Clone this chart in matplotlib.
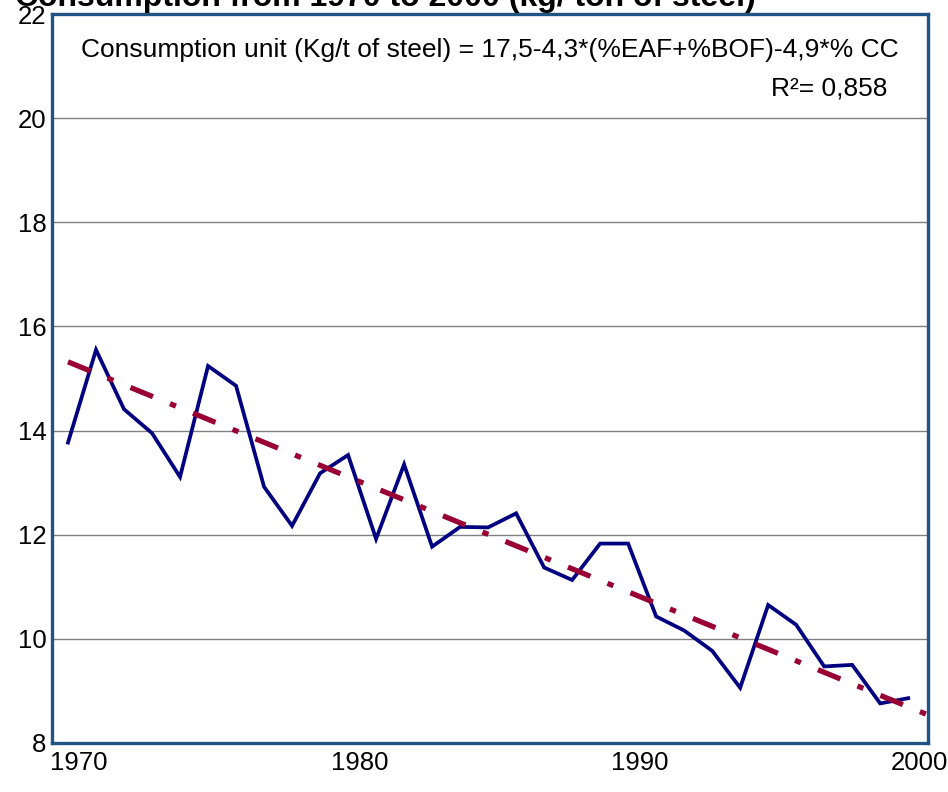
import numpy as np
import matplotlib
matplotlib.use("Agg")
import matplotlib.pyplot as plt

plt.rcParams['font.family'] = ['Liberation Sans', 'DejaVu Sans']

# consumption per year (kg / t of steel)
years = list(range(1970, 2001))
consumption = [13.77, 15.55, 14.41, 13.95, 13.11, 15.24, 14.86, 12.92, 12.17, 13.18,
               13.53, 11.92, 13.35, 11.77, 12.15, 12.14, 12.41, 11.37, 11.13, 11.83,
               11.83, 10.43, 10.16, 9.77, 9.06, 10.65, 10.27, 9.47, 9.50, 8.76,
               8.86]

# trend line (start / end)
trend_years = [1970, 2000.7]
trend_values = [15.32, 8.54]

xtick_years = [1970, 1980, 1990, 2000]
ytick_values = [8, 10, 12, 14, 16, 18, 20, 22]

fig = plt.figure(figsize=(9.48, 7.92), dpi=100)
ax = fig.add_axes([0.0549, 0.0619, 0.9241, 0.9204])

ax.plot(years, consumption, color='#000080', lw=2.7, solid_joinstyle='miter', zorder=3)
ax.plot(trend_years, trend_values, color='#990033', lw=3.8,
        dashes=(4.6, 3.5, 1.2, 3.5), dash_capstyle='butt', zorder=4)

ax.set_xlim(1969.43, 2000.71)
ax.set_ylim(8, 22)
ax.set_yticks(ytick_values)
ax.set_yticklabels([str(v) for v in ytick_values], fontsize=18.5)
ax.set_xticks([y + 0.4 for y in xtick_years])
ax.set_xticklabels([str(y) for y in xtick_years], fontsize=18.5)
ax.tick_params(length=0, pad=6)
ax.tick_params(axis='y', pad=4)
ax.grid(axis='y', color='#808080', lw=1)
ax.set_axisbelow(True)
for s in ax.spines.values():
    s.set_color('#1F5484')
    s.set_linewidth(2.4)

ax.text(0.5, 0.951, 'Consumption unit (Kg/t of steel) = 17,5-4,3*(%EAF+%BOF)-4,9*% CC',
        transform=ax.transAxes, ha='center', va='center', fontsize=19)
ax.text(0.953, 0.898, 'R\u00b2= 0,858', transform=ax.transAxes, ha='right', va='center',
        fontsize=19)

fig.text(0.016, 1.003, 'Consumption from 1970 to 2000 (kg/ ton of steel)',
         ha='left', va='center', fontsize=23, fontweight='bold')

fig.savefig('out.png', dpi=100)
